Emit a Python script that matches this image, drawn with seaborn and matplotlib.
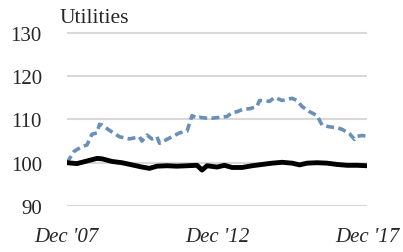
import numpy as np
import pandas as pd
import matplotlib.pyplot as plt
import matplotlib.dates as mdates
import seaborn as sns

# months after Dec 2007
dash_months = [0, 3, 6, 8, 10, 12, 13, 14, 17, 21, 25, 29, 30, 32, 34, 36, 37, 41, 45, 48,
               50, 52, 53, 56, 58, 61, 64, 66, 68, 70, 73, 76, 77, 81, 83, 86, 90, 92, 94, 97,
               100, 102, 105, 108, 110, 113, 115, 116, 118, 120]
dash_vals = [100.0, 102.7, 103.7, 104.1, 106.6, 106.9, 108.9, 108.7, 107.5, 106.0, 105.5, 106.0,
             105.0, 106.4, 105.5, 106.0, 104.5, 105.7, 106.9, 107.3, 110.9, 110.3, 110.5, 110.3,
             110.3, 110.5, 110.7, 111.6, 111.8, 112.3, 112.5, 113.0, 114.4, 114.2, 115.1, 114.4,
             114.9, 114.4, 113.0, 111.8, 110.9, 108.7, 108.3, 108.1, 107.7, 106.7, 105.4, 106.1,
             106.3, 106.1]

solid_months = [0, 4, 8, 12, 14, 18, 22, 26, 30, 33, 36, 40, 44, 48, 52, 54, 56, 60, 63, 66,
                70, 74, 78, 82, 86, 90, 93, 96, 100, 104, 108, 112, 116, 120]
solid_vals = [100.0, 99.8, 100.4, 101.0, 100.9, 100.3, 100.0, 99.5, 99.0, 98.7, 99.2, 99.3,
              99.2, 99.3, 99.4, 98.3, 99.3, 99.0, 99.4, 98.9, 98.9, 99.3, 99.6, 99.9, 100.1,
              99.9, 99.5, 99.9, 100.0, 99.9, 99.6, 99.4, 99.4, 99.3]

yticks = [90, 100, 110, 120, 130]
xtick_labels = ["Dec '07", "Dec '12", "Dec '17"]

start = pd.Timestamp('2007-12-01')
dash = pd.DataFrame({'date': [start + pd.DateOffset(months=m) for m in dash_months], 'val': dash_vals})
solid = pd.DataFrame({'date': [start + pd.DateOffset(months=m) for m in solid_months], 'val': solid_vals})

sns.set_style('white')
plt.rcParams['font.family'] = ['Liberation Serif', 'DejaVu Serif']

fig = plt.figure(figsize=(4.03, 2.53), dpi=100)
ax = fig.add_axes([0.166, 0.182, 0.745, 0.692])

for y in yticks:
    ax.axhline(y, color='#d9d9d9', lw=1.5, zorder=0)

sns.lineplot(data=dash, x='date', y='val', ax=ax, color='#6b8fb5', lw=2.6, linestyle=(0, (2.2, 1.2)))
sns.lineplot(data=solid, x='date', y='val', ax=ax, color='black', lw=3.5)

ax.set_ylim(90, 130.5)
ax.set_yticks(yticks)
ax.set_xlim(start, start + pd.DateOffset(months=120))
ax.set_xticks([start + pd.DateOffset(months=m) for m in (0, 60, 120)])
ax.set_xticklabels(xtick_labels, fontstyle='italic')
for s in ax.spines.values():
    s.set_visible(False)
ax.tick_params(axis='both', length=0, labelsize=15)
ax.tick_params(axis='y', pad=18)
ax.tick_params(axis='x', pad=15)
ax.set_xlabel('')
ax.set_ylabel('')
fig.text(0.149, 0.925, 'Utilities', fontsize=15.5, ha='left', va='center')

fig.savefig('out.png', dpi=100)
